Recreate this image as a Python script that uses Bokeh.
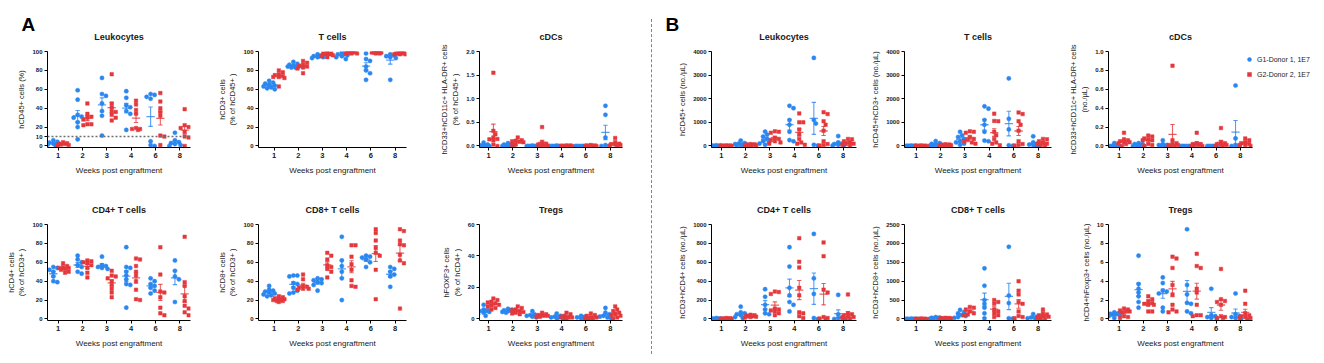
import numpy as np
from bokeh.plotting import figure
from bokeh.models import FixedTicker, Span, Title, Legend, LegendItem, ColumnDataSource, Div
from bokeh.layouts import row, column
from bokeh.embed import file_html
from bokeh.resources import INLINE

WEEKS = ["1", "2", "3", "4", "6", "8"]
GROUPS = ["G1-Donor 1, 1E7", "G2-Donor 2, 1E7"]

# ---------------- Panel A (percentages) ----------------
A_LEUK_G1 = [[6, 4.5, 3.5, 2.5, 2, 1.5, 1], [59, 49, 33, 31, 30, 25, 20, 7], [72, 55, 53, 45, 37, 32, 11],
             [58, 51, 43, 41, 37, 34, 17], [55, 54, 52, 50, 5, 1, 0], [14, 6, 4, 3, 2, 1, 0]]
A_LEUK_G2 = [[4, 3, 2.5, 2, 1.5, 1, 0.5], [45, 34, 31, 30, 28, 23, 23, 22], [76, 45, 41, 37, 36, 33, 30, 27],
             [48, 44, 38, 34, 19, 18, 18, 17], [56, 47, 40, 36, 32, 11, 10, 1], [39, 22, 20, 19, 15, 10, 9, 0]]

A_T_G1 = [[69, 67, 66, 65, 64, 63, 62, 61, 60], [89, 87, 86, 85, 84, 84, 83, 83], [97, 96, 95, 95, 94, 94, 93],
          [99, 98, 97, 97, 96, 95, 94, 92], [98, 92, 90, 84, 80, 77, 70], [97, 96, 95, 94, 93, 70]]
A_T_G2 = [[80, 78, 76, 75, 74, 73, 73, 72, 63], [90, 88, 86, 85, 84, 83, 82, 77], [99, 98, 98, 97, 97, 96, 95, 94],
          [100, 100, 99, 99, 99, 98, 98, 98], [100, 100, 99, 99, 99, 99, 98, 98], [99, 99, 98, 98, 98, 97, 97, 97]]

A_CDC_G1 = [[0.07, 0.03, 0.02, 0.01, 0, 0, 0, 0, 0], [0.06, 0.04, 0.03, 0.02, 0.01, 0, 0, 0], [0.01, 0, 0, 0, 0, 0, 0],
            [0.01, 0, 0, 0, 0, 0, 0], [0, 0, 0, 0, 0, 0, 0], [0.85, 0.66, 0.18, 0.02, 0.01, 0]]
A_CDC_G2 = [[1.55, 0.32, 0.25, 0.18, 0.15, 0.14, 0.12, 0.03, 0], [0.18, 0.12, 0.11, 0.1, 0.09, 0.08, 0.03, 0.02],
            [0.4, 0.08, 0.05, 0.03, 0.02, 0.01, 0, 0], [0.01, 0.01, 0, 0, 0, 0, 0, 0],
            [0.02, 0.01, 0.01, 0, 0, 0, 0, 0], [0.17, 0.08, 0.05, 0.04, 0.03, 0.02, 0.01, 0]]

A_CD4_G1 = [[55, 54, 52, 50, 45, 40, 39], [67, 63, 60, 57, 55, 50, 48], [66, 57, 56, 55, 54, 53],
            [76, 55, 54, 50, 46, 42, 37, 36, 12], [43, 40, 37, 35, 33, 30, 27], [62, 51, 45, 42, 18]]
A_CD4_G2 = [[59, 56, 55, 54, 54, 53, 52, 50, 49], [62, 61, 60, 59, 57, 54, 49, 44], [51, 46, 45, 43, 40, 36, 32, 28, 23],
            [64, 63, 56, 50, 46, 40, 31, 21, 20], [76, 47, 29, 28, 23, 12, 6, 4], [87, 39, 35, 24, 19, 14, 11, 7, 4]]

A_CD8_G1 = [[35, 31, 30, 29, 28, 27, 26, 25, 24], [46, 46, 45, 38, 37, 33, 30, 28, 27], [43, 42, 41, 39, 38, 36, 30],
            [87, 62, 56, 50, 43, 20], [67, 66, 65, 63, 60, 55], [55, 53, 50, 47, 45, 34]]
A_CD8_G2 = [[24, 23, 22, 21, 21, 20, 20, 19, 19, 18], [47, 42, 35, 34, 33, 32, 32, 31], [70, 67, 63, 57, 55, 53, 50, 44],
            [78, 78, 66, 58, 52, 41, 35, 34], [95, 91, 83, 75, 70, 67, 52, 21], [95, 93, 83, 79, 78, 68, 62, 59, 11]]

A_TREG_G1 = [[9, 6, 5.5, 5, 5, 4.5, 4, 3, 2], [6.5, 6, 5.5, 5.5, 5, 5, 4.5, 4], [5, 3, 2.5, 2, 2, 1.5, 1],
             [3.5, 2, 1.5, 1, 1, 0.5, 0.5], [2, 1.5, 1, 1, 0.5, 0.5], [7, 4, 3, 2, 1.5, 1, 0.5]]
A_TREG_G2 = [[13, 12, 11, 10.5, 10, 9, 8.5, 8, 7, 6], [8, 7, 6, 5.5, 5, 4.5, 4, 3.5, 3], [4, 3, 2.5, 2.5, 2, 2, 1.5, 1.5],
             [4, 3, 2, 1.5, 1, 1, 0.5, 0.5], [3.5, 2.5, 2, 1, 1, 0.5, 0.5, 0.3], [8, 6, 5, 4, 3, 2.5, 2, 1, 0.5]]

# ---------------- Panel B (counts per uL) ----------------
B_LEUK_G1 = [[30, 20, 15, 10, 5, 5, 0], [230, 120, 100, 80, 60, 50, 40, 30], [610, 480, 400, 300, 200, 150, 100, 50],
             [1700, 1600, 1100, 900, 600, 250, 200], [3730, 1100, 950, 50, 20], [420, 150, 100, 80, 50, 30, 20]]
B_LEUK_G2 = [[25, 20, 15, 10, 8, 5, 3, 0], [80, 70, 60, 50, 40, 30, 25, 20], [620, 600, 560, 350, 300, 250, 200, 150, 100],
             [1380, 1000, 1000, 700, 500, 300, 150, 100, 50], [1430, 1350, 1050, 900, 650, 200, 80, 40, 20],
             [300, 280, 200, 150, 100, 80, 50, 30]]

B_T_G1 = [[20, 15, 10, 5, 5, 0, 0], [210, 120, 90, 70, 50, 40, 30, 20], [600, 450, 380, 300, 200, 150, 100, 50],
          [1680, 1580, 1100, 900, 600, 230, 200], [2860, 1150, 700, 30, 10], [410, 150, 100, 60, 40, 20, 10]]
B_T_G2 = [[20, 15, 10, 8, 5, 3, 0, 0], [70, 60, 50, 45, 40, 30, 25, 20], [620, 600, 560, 380, 300, 250, 200, 150, 100],
          [1370, 1060, 1050, 600, 450, 300, 150, 100, 30], [1420, 1350, 1050, 900, 650, 200, 80, 40, 20],
          [300, 280, 200, 140, 100, 70, 40, 20]]

B_CDC_G1 = [[0.03, 0.01, 0, 0, 0, 0, 0], [0.03, 0.02, 0.02, 0.01, 0.01, 0, 0, 0], [0.06, 0.02, 0.01, 0.01, 0, 0, 0],
            [0, 0, 0, 0, 0, 0, 0], [0, 0, 0, 0, 0, 0], [0.64, 0.08, 0.01, 0, 0]]
B_CDC_G2 = [[0.14, 0.07, 0.06, 0.05, 0.04, 0.04, 0.03, 0.02, 0], [0.11, 0.1, 0.08, 0.07, 0.06, 0.06, 0.02, 0.01, 0],
            [0.85, 0.06, 0.03, 0.02, 0.01, 0.01, 0, 0], [0.14, 0.03, 0.02, 0.02, 0.01, 0.01, 0, 0],
            [0.19, 0.04, 0.03, 0.02, 0.01, 0.01, 0, 0], [0.08, 0.06, 0.04, 0.03, 0.02, 0.01, 0.01, 0]]

B_CD4_G1 = [[10, 5, 5, 3, 2, 0, 0], [130, 70, 60, 50, 40, 30, 20, 10], [315, 235, 150, 100, 60, 50],
            [760, 555, 330, 250, 180, 150, 80], [900, 430, 265, 10, 0], [255, 50, 20, 10, 0, 0]]
B_CD4_G2 = [[10, 8, 5, 4, 3, 2, 0, 0], [45, 40, 35, 30, 30, 25, 20, 15], [290, 285, 265, 110, 100, 90, 80, 60, 40],
            [855, 605, 545, 330, 250, 70, 60, 30, 10], [810, 665, 310, 280, 20, 10, 5, 0],
            [260, 60, 50, 40, 30, 20, 10, 5, 0]]

B_CD8_G1 = [[10, 5, 5, 3, 0, 0, 0], [50, 40, 30, 20, 15, 10, 10], [240, 180, 150, 100, 80, 50, 30],
            [1340, 880, 500, 400, 300, 150, 20], [1910, 620, 420, 20, 10], [130, 60, 40, 20, 10, 5]]
B_CD8_G2 = [[10, 8, 5, 3, 2, 0, 0, 0], [30, 25, 20, 15, 10, 10, 5, 5], [320, 300, 250, 200, 150, 120, 100],
            [500, 450, 400, 250, 200, 150, 100, 50], [1000, 750, 650, 450, 400, 200, 80, 50, 20],
            [250, 150, 120, 100, 80, 60, 40, 20, 10]]

B_TREG_G1 = [[0.7, 0.6, 0.55, 0.5, 0.45, 0.4, 0.3, 0.1], [6.7, 3.7, 3.2, 2.8, 2.4, 1.8, 1.2],
             [4.4, 3.8, 3.0, 2.9, 2.7, 1.2, 0.8], [9.5, 3.6, 2.6, 1.7, 1.6, 0.8, 0.6], [3.2, 0.4, 0.3, 0.2, 0.1, 0],
             [2.7, 0.5, 0.3, 0.2, 0.1, 0]]
B_TREG_G2 = [[1.1, 1.0, 0.9, 0.85, 0.8, 0.7, 0.3, 0.2, 0.1], [2.4, 2.1, 1.9, 1.7, 1.6, 1.5, 1.5, 0.8, 0.8],
             [6.6, 6.4, 5.4, 3.6, 2.6, 1.5, 1.0, 0.8, 0.7], [6.9, 5.6, 5.4, 3.2, 2.8, 1.5, 0.4, 0.4, 0.3],
             [5.3, 2.1, 1.9, 1.8, 1.5, 0.3, 0.2, 0.1, 0.1], [3.0, 1.6, 0.6, 0.4, 0.3, 0.2, 0.1, 0.1, 0]]

# ---------------- axis ticks ----------------
TICKS_PCT = [0, 20, 40, 60, 80, 100]
TICKS_LEUK_PCT = [0, 10, 20, 40, 60, 80, 100]
TICKS_CDC_PCT = [0, 0.5, 1.0, 1.5, 2.0]
TICKS_TREG_PCT = [0, 20, 40, 60]
TICKS_4000 = [0, 1000, 2000, 3000, 4000]
TICKS_CDC_CNT = [0, 0.2, 0.4, 0.6, 0.8, 1.0]
TICKS_1000 = [0, 200, 400, 600, 800, 1000]
TICKS_2500 = [0, 500, 1000, 1500, 2000, 2500]
TICKS_10 = [0, 2, 4, 6, 8, 10]

BLUE = "#2B87F0"
RED = "#E4383D"
FONT = "Liberation Sans"
TXT = "#1a1a1a"

PX_PER_UNIT = 24.3
FRAME_H = 96

# column geometry: (border_left, x_start, x_end, border_right)
COLS = [
    (47, -0.44, 5.44, 24),
    (43, -0.64, 5.47, 24),
    (49, -0.37, 5.50, 23),
    (54, -0.40, 5.55, 12),
    (35, -0.48, 5.55, 12),
    (45, -0.44, 5.50, 70),
]
# row geometry: (border_top, border_bottom)
ROWS = [(51, 31), (46, 34)]


def swarm(vals, ppy, d=3.6):
    vals = np.asarray(vals, float)
    order = np.argsort(-vals)
    cands = [0, 2.0, -2.0, 4.0, -4.0, 5.6, -5.6]
    placed = []
    offs = np.zeros(len(vals))
    for i in order:
        yp = vals[i] * ppy
        best, bestd = 0.0, -1.0
        for c in cands:
            md = min([np.hypot(c - px, yp - py) for px, py in placed], default=1e9)
            if md >= d:
                best = c
                break
            if md > bestd:
                best, bestd = c, md
        placed.append((best, yp))
        offs[i] = best / PX_PER_UNIT
    return offs


def make_panel(ci, ri, title, ylabel, g1, g2, ticks, labels, dashed=None, legend=False, letter=None):
    bl, xs, xe, br = COLS[ci]
    bt, bb = ROWS[ri]
    fw = int(round((xe - xs) * PX_PER_UNIT))
    ymax = ticks[-1]
    ys = -0.016 * ymax
    p = figure(frame_width=fw, frame_height=FRAME_H, x_range=(xs, xe), y_range=(ys, ymax),
               output_backend="svg", toolbar_location=None, title_location=None,
               min_border_left=bl, min_border_right=br, min_border_top=bt, min_border_bottom=bb)
    p.add_layout(Title(text=title, align="center", text_font=FONT, text_font_size="9px",
                       text_font_style="bold", text_color=TXT, standoff=19), "above")
    if letter is not None:
        p.add_layout(Title(text=letter[0], align="left", offset=letter[1], text_font=FONT,
                           text_font_size="19px", text_font_style="bold", text_color="black",
                           standoff=-28), "above")
    p.outline_line_color = None
    p.xgrid.visible = False
    p.ygrid.visible = False

    for ax in (p.xaxis[0], p.yaxis[0]):
        ax.axis_line_color = "black"
        ax.axis_line_width = 1
        ax.major_tick_line_color = "black"
        ax.major_tick_out = 3
        ax.major_tick_in = 0
        ax.minor_tick_line_color = None
        ax.major_label_text_font = FONT
        ax.major_label_text_font_style = "bold"
        ax.major_label_text_color = TXT
        ax.axis_label_text_font = FONT
        ax.axis_label_text_font_style = "normal"
        ax.axis_label_text_color = TXT
        ax.major_label_standoff = 2

    p.xaxis.ticker = FixedTicker(ticks=list(range(len(WEEKS))))
    p.xaxis.major_label_overrides = {i: w for i, w in enumerate(WEEKS)}
    p.xaxis.major_label_text_font_size = "7.5px"
    p.xaxis.axis_label = "Weeks post engraftment"
    p.xaxis.axis_label_text_font_size = "8px"
    p.xaxis.axis_label_standoff = 5

    p.yaxis.ticker = FixedTicker(ticks=ticks)
    p.yaxis.major_label_overrides = {t: l for t, l in zip(ticks, labels)}
    p.yaxis.major_label_text_font_size = "6px"
    p.yaxis.axis_label = ylabel
    p.yaxis.axis_label_text_font_size = "7.5px"
    p.yaxis.axis_label_standoff = 3

    if dashed is not None:
        p.add_layout(Span(location=dashed, dimension="width", line_color="#707070",
                          line_width=1.6, line_dash="2 2"))

    ppy = FRAME_H / (ymax - ys)
    rends = []
    for gi, (data, color, marker, size) in enumerate(((g1, BLUE, "circle", 4.2), (g2, RED, "square", 3.5))):
        shift = -0.2 if gi == 0 else 0.2
        xs_pts, ys_pts = [], []
        mx0, mx1, my, ex, ey0, ey1, cx0, cx1 = [], [], [], [], [], [], [], []
        for wi, vals in enumerate(data):
            v = np.asarray(vals, float)
            offs = swarm(v, ppy)
            xs_pts.extend(wi + shift + offs)
            ys_pts.extend(v)
            m = v.mean()
            sem = v.std(ddof=1) / np.sqrt(len(v)) if len(v) > 1 else 0.0
            c = wi + shift
            mx0.append(c - 0.17); mx1.append(c + 0.17); my.append(m)
            ex.append(c); ey0.append(m - sem); ey1.append(m + sem)
            cx0.append(c - 0.09); cx1.append(c + 0.09)
        src = ColumnDataSource(dict(x=xs_pts, y=ys_pts))
        r = p.scatter("x", "y", source=src, marker=marker, size=size, fill_color=color,
                      line_color=color, line_width=0.5)
        rends.append(r)
        p.segment(mx0, my, mx1, my, line_color=color, line_width=1.3, line_alpha=0.8)
        p.segment(ex, ey0, ex, ey1, line_color=color, line_width=1.1, line_alpha=0.8)
        p.segment(cx0, ey0, cx1, ey0, line_color=color, line_width=1.1, line_alpha=0.8)
        p.segment(cx0, ey1, cx1, ey1, line_color=color, line_width=1.1, line_alpha=0.8)

    if legend:
        leg = Legend(items=[LegendItem(label=GROUPS[0], renderers=[rends[0]]),
                            LegendItem(label=GROUPS[1], renderers=[rends[1]])],
                     location=(-8, 68), orientation="vertical",
                     background_fill_alpha=0, border_line_color=None,
                     padding=0, margin=0, spacing=5, glyph_width=10, glyph_height=10,
                     label_standoff=3, label_text_font=FONT, label_text_font_size="7px",
                     label_text_color=TXT, label_height=10)
        p.add_layout(leg, "right")
    return p


LBL_PCT = [str(t) for t in TICKS_PCT]
a1 = make_panel(0, 0, "Leukocytes", "hCD45+ cells (%)", A_LEUK_G1, A_LEUK_G2, TICKS_LEUK_PCT,
                [str(t) for t in TICKS_LEUK_PCT], dashed=10, letter=("A", -26))
a2 = make_panel(1, 0, "T cells", "hCD3+ cells\n(% of hCD45+ )", A_T_G1, A_T_G2, TICKS_PCT, LBL_PCT)
a3 = make_panel(2, 0, "cDCs", "hCD33+hCD11c+ HLA-DR+ cells\n(% of hCD45+ )", A_CDC_G1, A_CDC_G2, TICKS_CDC_PCT,
                ["0.0", "0.5", "1.0", "1.5", "2.0"])
a4 = make_panel(0, 1, "CD4+ T cells", "hCD4+ cells\n(% of hCD3+ )", A_CD4_G1, A_CD4_G2, TICKS_PCT, LBL_PCT)
a5 = make_panel(1, 1, "CD8+ T cells", "hCD8+ cells\n(% of hCD3+ )", A_CD8_G1, A_CD8_G2, TICKS_PCT, LBL_PCT)
a6 = make_panel(2, 1, "Tregs", "hFOXP3+ cells\n(% of hCD4+ )", A_TREG_G1, A_TREG_G2, TICKS_TREG_PCT,
                [str(t) for t in TICKS_TREG_PCT])

b1 = make_panel(3, 0, "Leukocytes", "hCD45+ cells (no./µL)", B_LEUK_G1, B_LEUK_G2, TICKS_4000,
                [str(t) for t in TICKS_4000], letter=("B", -46))
b2 = make_panel(4, 0, "T cells", "hCD45+hCD3+ cells (no./µL)", B_T_G1, B_T_G2, TICKS_4000,
                [str(t) for t in TICKS_4000])
b3 = make_panel(5, 0, "cDCs", "hCD33+hCD11c+ HLA-DR+ cells\n(no./µL)", B_CDC_G1, B_CDC_G2, TICKS_CDC_CNT,
                ["0.0", "0.2", "0.4", "0.6", "0.8", "1.0"], legend=True)
b4 = make_panel(3, 1, "CD4+ T cells", "hCD3+hCD4+ cells (no./µL)", B_CD4_G1, B_CD4_G2, TICKS_1000,
                [str(t) for t in TICKS_1000])
b5 = make_panel(4, 1, "CD8+ T cells", "hCD3+hCD8+ cells (no./µL)", B_CD8_G1, B_CD8_G2, TICKS_2500,
                [str(t) for t in TICKS_2500])
b6 = make_panel(5, 1, "Tregs", "hCD4+hFoxp3+ cells (no./µL)", B_TREG_G1, B_TREG_G2, TICKS_10,
                [str(t) for t in TICKS_10])

sep = Div(text='<div style="border-left:1px dashed #4F8FD8;height:335px;margin-left:6px;margin-top:19px"></div>',
          width=12, height=354, margin=0)

layout = row(column(a1, a4), column(a2, a5), column(a3, a6), sep,
             column(b1, b4), column(b2, b5), column(b3, b6))

open("out.html", "w").write(file_html(layout, INLINE))
